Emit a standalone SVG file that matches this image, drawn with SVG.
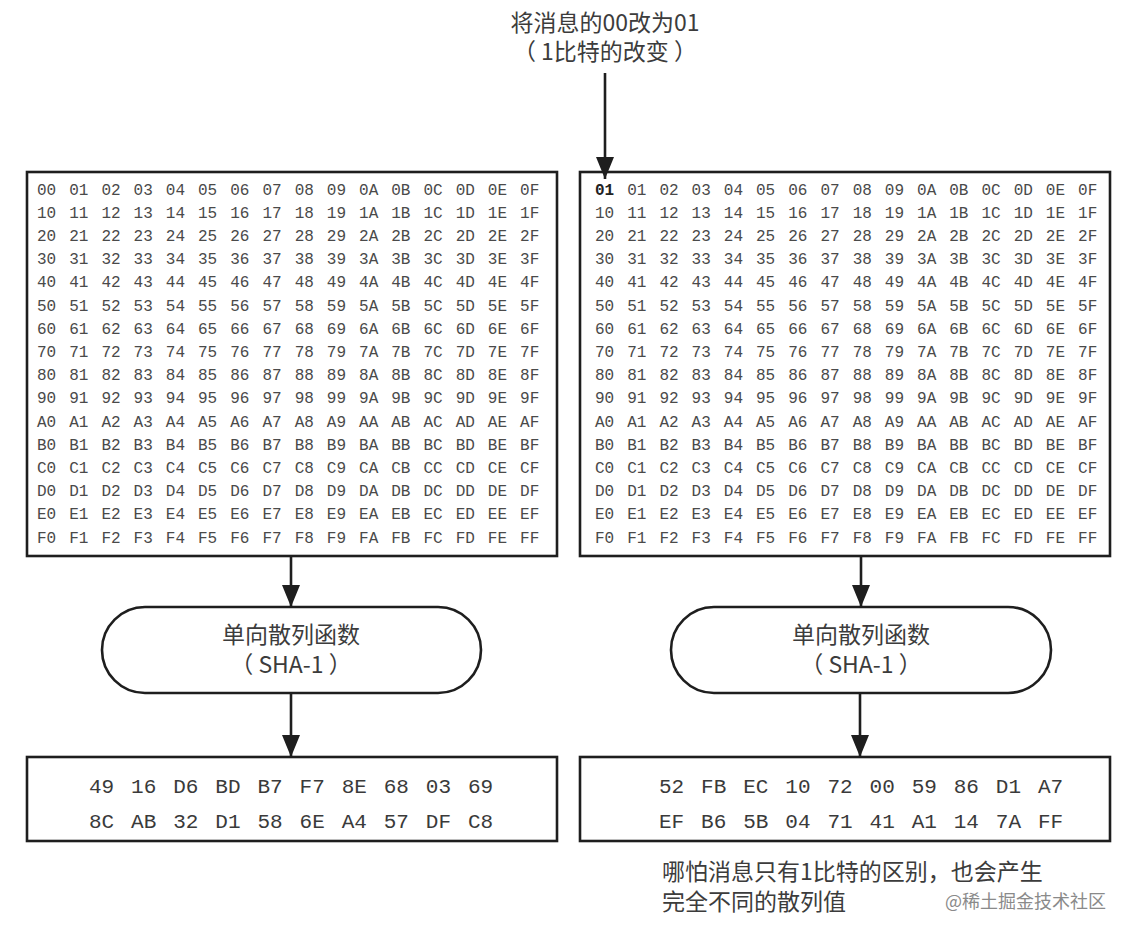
<svg xmlns="http://www.w3.org/2000/svg" width="1130" height="936" viewBox="0 0 1130 936">
<style>
.box{fill:#fff;stroke:#1e1e1e;stroke-width:2.6}
.grid{font-family:"Liberation Mono","DejaVu Sans Mono",monospace;font-size:16px;fill:#4a4a4a;word-spacing:3.4px}
.hash{font-family:"Liberation Mono","DejaVu Sans Mono",monospace;font-size:21px;fill:#3a3a3a;word-spacing:4.3px}
.cjk{font-family:"Noto Sans CJK SC","Noto Sans",sans-serif;font-size:23px;fill:#3c3c3c}
.mid{text-anchor:middle}
.wm{font-family:"Noto Sans CJK SC","Noto Sans",sans-serif;font-size:18px;fill:#8a8a8a}
.conn{stroke:#1e1e1e;stroke-width:2.6;fill:none}
</style>
<defs>
<marker id="ah" viewBox="0 0 22 18" refX="22" refY="9" markerWidth="22" markerHeight="18" markerUnits="userSpaceOnUse" orient="auto">
<path d="M0,0 L22,9 L0,18 z" fill="#1e1e1e"/>
</marker>
</defs>
<rect width="1130" height="936" fill="#fff"/>

<g id="label-change">
<text class="cjk mid" x="605" y="31">将消息的00改为01<tspan x="605" dy="29">（ 1比特的改变 ）</tspan></text>
</g>

<g id="message-original">
<rect class="box" x="27" y="172" width="530" height="384"/>
<text class="grid" x="37" y="194.5">00 01 02 03 04 05 06 07 08 09 0A 0B 0C 0D 0E 0F</text>
<text class="grid" x="37" y="217.7">10 11 12 13 14 15 16 17 18 19 1A 1B 1C 1D 1E 1F</text>
<text class="grid" x="37" y="240.9">20 21 22 23 24 25 26 27 28 29 2A 2B 2C 2D 2E 2F</text>
<text class="grid" x="37" y="264.1">30 31 32 33 34 35 36 37 38 39 3A 3B 3C 3D 3E 3F</text>
<text class="grid" x="37" y="287.3">40 41 42 43 44 45 46 47 48 49 4A 4B 4C 4D 4E 4F</text>
<text class="grid" x="37" y="310.5">50 51 52 53 54 55 56 57 58 59 5A 5B 5C 5D 5E 5F</text>
<text class="grid" x="37" y="333.7">60 61 62 63 64 65 66 67 68 69 6A 6B 6C 6D 6E 6F</text>
<text class="grid" x="37" y="356.9">70 71 72 73 74 75 76 77 78 79 7A 7B 7C 7D 7E 7F</text>
<text class="grid" x="37" y="380.1">80 81 82 83 84 85 86 87 88 89 8A 8B 8C 8D 8E 8F</text>
<text class="grid" x="37" y="403.3">90 91 92 93 94 95 96 97 98 99 9A 9B 9C 9D 9E 9F</text>
<text class="grid" x="37" y="426.5">A0 A1 A2 A3 A4 A5 A6 A7 A8 A9 AA AB AC AD AE AF</text>
<text class="grid" x="37" y="449.7">B0 B1 B2 B3 B4 B5 B6 B7 B8 B9 BA BB BC BD BE BF</text>
<text class="grid" x="37" y="472.9">C0 C1 C2 C3 C4 C5 C6 C7 C8 C9 CA CB CC CD CE CF</text>
<text class="grid" x="37" y="496.1">D0 D1 D2 D3 D4 D5 D6 D7 D8 D9 DA DB DC DD DE DF</text>
<text class="grid" x="37" y="519.3">E0 E1 E2 E3 E4 E5 E6 E7 E8 E9 EA EB EC ED EE EF</text>
<text class="grid" x="37" y="542.5">F0 F1 F2 F3 F4 F5 F6 F7 F8 F9 FA FB FC FD FE FF</text>
</g>

<g id="message-modified">
<rect class="box" x="580" y="172" width="530" height="384"/>
<text class="grid" x="595" y="194.5"><tspan font-weight="bold" fill="#222">01</tspan> 01 02 03 04 05 06 07 08 09 0A 0B 0C 0D 0E 0F</text>
<text class="grid" x="595" y="217.7">10 11 12 13 14 15 16 17 18 19 1A 1B 1C 1D 1E 1F</text>
<text class="grid" x="595" y="240.9">20 21 22 23 24 25 26 27 28 29 2A 2B 2C 2D 2E 2F</text>
<text class="grid" x="595" y="264.1">30 31 32 33 34 35 36 37 38 39 3A 3B 3C 3D 3E 3F</text>
<text class="grid" x="595" y="287.3">40 41 42 43 44 45 46 47 48 49 4A 4B 4C 4D 4E 4F</text>
<text class="grid" x="595" y="310.5">50 51 52 53 54 55 56 57 58 59 5A 5B 5C 5D 5E 5F</text>
<text class="grid" x="595" y="333.7">60 61 62 63 64 65 66 67 68 69 6A 6B 6C 6D 6E 6F</text>
<text class="grid" x="595" y="356.9">70 71 72 73 74 75 76 77 78 79 7A 7B 7C 7D 7E 7F</text>
<text class="grid" x="595" y="380.1">80 81 82 83 84 85 86 87 88 89 8A 8B 8C 8D 8E 8F</text>
<text class="grid" x="595" y="403.3">90 91 92 93 94 95 96 97 98 99 9A 9B 9C 9D 9E 9F</text>
<text class="grid" x="595" y="426.5">A0 A1 A2 A3 A4 A5 A6 A7 A8 A9 AA AB AC AD AE AF</text>
<text class="grid" x="595" y="449.7">B0 B1 B2 B3 B4 B5 B6 B7 B8 B9 BA BB BC BD BE BF</text>
<text class="grid" x="595" y="472.9">C0 C1 C2 C3 C4 C5 C6 C7 C8 C9 CA CB CC CD CE CF</text>
<text class="grid" x="595" y="496.1">D0 D1 D2 D3 D4 D5 D6 D7 D8 D9 DA DB DC DD DE DF</text>
<text class="grid" x="595" y="519.3">E0 E1 E2 E3 E4 E5 E6 E7 E8 E9 EA EB EC ED EE EF</text>
<text class="grid" x="595" y="542.5">F0 F1 F2 F3 F4 F5 F6 F7 F8 F9 FA FB FC FD FE FF</text>
</g>

<g id="hash-func-left">
<rect class="box" x="102" y="607" width="379" height="86" rx="43" ry="43"/>
<text class="cjk mid" x="291" y="643">单向散列函数<tspan x="291" dy="30">（ SHA-1 ）</tspan></text>
</g>

<g id="hash-func-right">
<rect class="box" x="671" y="607" width="380" height="86" rx="43" ry="43"/>
<text class="cjk mid" x="861" y="643">单向散列函数<tspan x="861" dy="30">（ SHA-1 ）</tspan></text>
</g>

<g id="hash-left">
<rect class="box" x="27" y="757" width="530" height="84"/>
<text class="hash" x="89" y="793">49 16 D6 BD B7 F7 8E 68 03 69</text>
<text class="hash" x="89" y="828">8C AB 32 D1 58 6E A4 57 DF C8</text>
</g>

<g id="hash-right">
<rect class="box" x="580" y="757" width="530" height="84"/>
<text class="hash" x="659" y="793">52 FB EC 10 72 00 59 86 D1 A7</text>
<text class="hash" x="659" y="828">EF B6 5B 04 71 41 A1 14 7A FF</text>
</g>

<g id="caption">
<text class="cjk" x="662" y="880">哪怕消息只有1比特的区别，也会产生<tspan x="662" dy="30">完全不同的散列值</tspan></text>
</g>

<g id="watermark">
<text class="wm" x="945" y="908">@稀土掘金技术社区</text>
</g>

<g id="connectors">
<line class="conn" x1="605" y1="73" x2="605" y2="179" marker-end="url(#ah)"/>
<line class="conn" x1="291" y1="556" x2="291" y2="607" marker-end="url(#ah)"/>
<line class="conn" x1="861" y1="556" x2="861" y2="607" marker-end="url(#ah)"/>
<line class="conn" x1="291" y1="693" x2="291" y2="757" marker-end="url(#ah)"/>
<line class="conn" x1="860" y1="693" x2="860" y2="757" marker-end="url(#ah)"/>
</g>
</svg>
